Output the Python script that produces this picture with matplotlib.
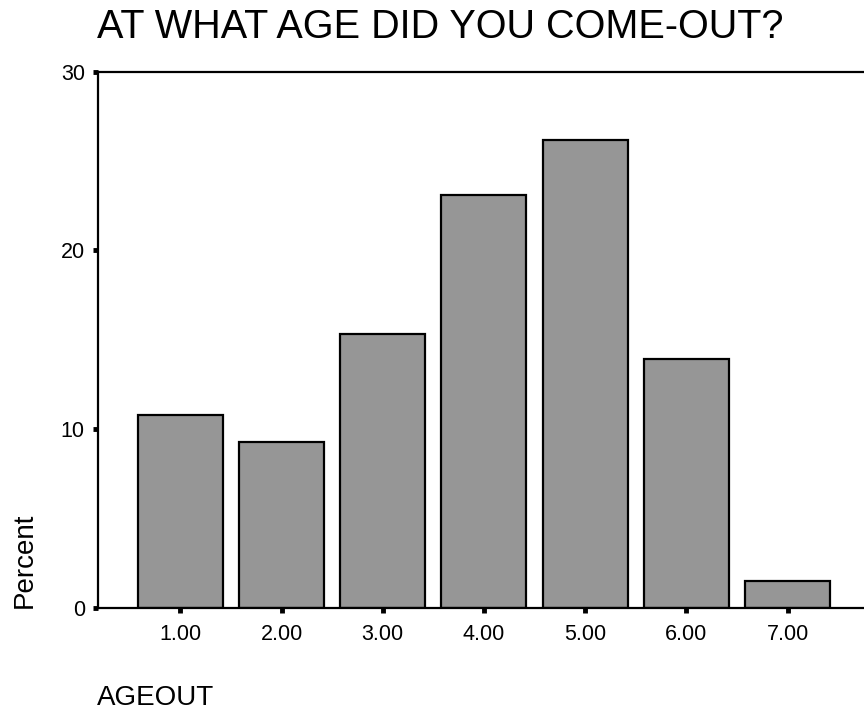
import matplotlib
matplotlib.use("Agg")
import matplotlib.pyplot as plt

# data
ages = [1, 2, 3, 4, 5, 6, 7]
age_labels = ["1.00", "2.00", "3.00", "4.00", "5.00", "6.00", "7.00"]
percent = [10.8, 9.3, 15.3, 23.1, 26.2, 13.9, 1.5]
y_ticks = [0, 10, 20, 30]

plt.rcParams['font.family'] = ['Liberation Sans', 'DejaVu Sans']

fig = plt.figure(figsize=(8.64, 7.13), dpi=100)
ax = fig.add_axes([0.1134, 0.1477, 0.8866, 0.7517])

ax.bar(ages, percent, width=0.84, color='#969696', edgecolor='black',
       linewidth=1.6, zorder=2)

ax.set_xlim(0.187, 7.754)
ax.set_ylim(0, 30)
ax.set_xticks(ages)
ax.set_xticklabels(age_labels)
ax.set_yticks(y_ticks)

for side in ['left', 'top', 'bottom']:
    ax.spines[side].set_linewidth(1.6)
    ax.spines[side].set_color('black')
ax.spines['right'].set_visible(False)

ax.tick_params(axis='y', direction='out', length=3.5, width=3.5,
               labelsize=15.5, pad=6)
ax.tick_params(axis='x', direction='out', length=3.5, width=3.5,
               labelsize=15.5, pad=8)

fig.text(97 / 864, 0.9467, "AT WHAT AGE DID YOU COME-OUT?", fontsize=28.5,
         ha='left', va='baseline')
fig.text(24.5 / 864, 0.147, "Percent", fontsize=20, rotation=90,
         ha='center', va='bottom')
fig.text(97 / 864, 0.0112, "AGEOUT", fontsize=20, ha='left', va='baseline')

fig.savefig("out.png", dpi=100)
